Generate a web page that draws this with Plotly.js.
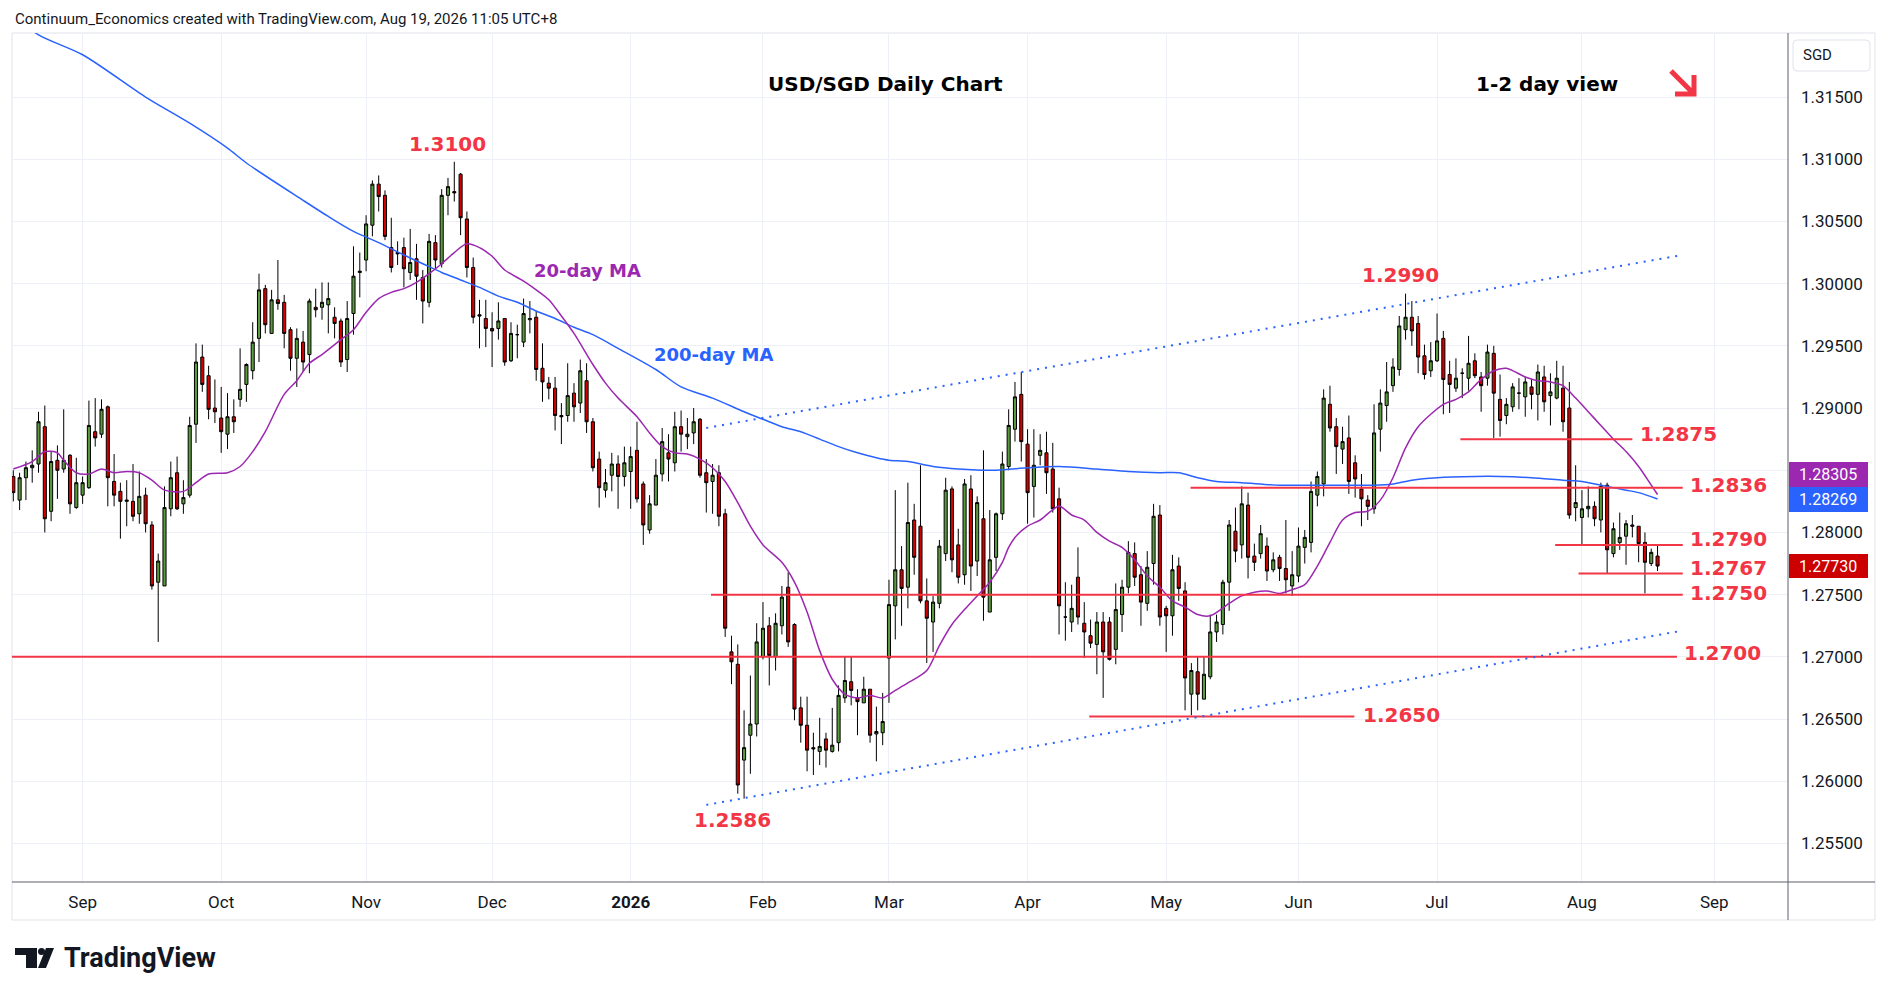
<!DOCTYPE html>
<html>
<head>
<meta charset="utf-8">
<script src="https://cdn.plot.ly/plotly-3.0.1.min.js"></script>
<style>
  html, body { margin: 0; padding: 0; background: #ffffff; }
  #chart { width: 1888px; height: 996px; }
</style>
</head>
<body>
<div id="chart"></div>
<script>
// ---- Data ----
const firstDay = '2025-08-15';
const lastDay = '2026-08-19';
const holidays = ['2025-12-25', '2026-01-01'];

const openPx = [
    // Aug 2025
    1.2845,1.2826,1.2844,1.2852,1.2855,1.2885,1.2817,1.2858,1.2851,1.2862,1.2820,
    // Sep
    1.2830,1.2836,1.2881,1.2879,1.2901,1.2841,1.2833,1.2825,1.2825,1.2815,1.2830,1.2806,1.2760,1.2757,1.2819,1.2848,1.2823,1.2830,1.2887,1.2941,1.2926,1.2900,
    // Oct
    1.2892,1.2879,1.2893,1.2907,1.2919,1.2930,1.2956,1.2996,1.2960,1.2987,1.2985,1.2963,1.2940,1.2953,1.2943,1.2981,1.2981,1.2983,1.2973,1.2970,1.2939,1.2976,1.3009,
    // Nov
    1.3019,1.3047,1.3080,1.3071,1.3029,1.3025,1.3029,1.3009,1.3020,1.3005,1.2985,1.3033,1.3016,1.3071,1.3074,1.3088,1.3052,1.3013,1.2975,1.2972,
    // Dec
    1.2964,1.2964,1.2972,1.2938,1.2959,1.2953,1.2971,1.2973,1.2932,1.2920,1.2916,1.2894,1.2894,1.2912,1.2904,1.2922,1.2889,1.2859,1.2834,1.2846,1.2855,1.2845,
    // Jan 2026
    1.2849,1.2866,1.2839,1.2802,1.2822,1.2847,1.2864,1.2856,1.2885,1.2877,1.2880,1.2891,1.2848,1.2841,1.2848,1.2815,1.2704,1.2694,1.2617,1.2637,1.2646,
    // Feb
    1.2700,1.2725,1.2700,1.2725,1.2756,1.2726,1.2659,1.2645,1.2627,1.2624,1.2634,1.2624,1.2631,1.2667,1.2680,1.2667,1.2663,1.2674,1.2638,1.2639,
    // Mar
    1.2699,1.2741,1.2770,1.2756,1.2810,1.2805,1.2745,1.2728,1.2743,1.2783,1.2835,1.2790,1.2766,1.2835,1.2777,1.2811,1.2736,1.2780,1.2815,1.2853,1.2883,1.2911,
    // Apr
    1.2871,1.2837,1.2862,1.2864,1.2851,1.2827,1.2732,1.2728,1.2764,1.2727,1.2717,1.2710,1.2728,1.2728,1.2706,1.2734,1.2756,1.2783,1.2766,1.2743,1.2775,1.2814,
    // May
    1.2739,1.2733,1.2773,1.2753,1.2670,1.2688,1.2666,1.2684,1.2720,1.2726,1.2760,1.2801,1.2790,1.2822,1.2781,1.2783,1.2789,1.2770,1.2780,1.2771,1.2757,
    // Jun
    1.2765,1.2788,1.2792,1.2830,1.2839,1.2903,1.2885,1.2867,1.2876,1.2856,1.2835,1.2826,1.2819,1.2883,1.2902,1.2918,1.2931,1.2963,1.2973,1.2968,1.2942,1.2930,
    // Jul
    1.2938,1.2956,1.2927,1.2916,1.2928,1.2924,1.2938,1.2925,1.2924,1.2944,1.2907,1.2894,1.2901,1.2912,1.2909,1.2917,1.2911,1.2925,1.2910,1.2908,1.2916,1.2900,1.2820,
    // Aug
    1.2812,1.2819,1.2821,1.2810,1.2838,1.2783,1.2792,1.2797,1.2806,1.2805,1.2792,1.2775,1.2781
];

const highPx = [
    1.2850,1.2848,1.2857,1.2866,1.2897,1.2902,1.2865,1.2870,1.2899,1.2863,1.2860,
    1.2845,1.2906,1.2908,1.2907,1.2902,1.2863,1.2840,1.2842,1.2855,1.2849,1.2836,1.2809,1.2783,1.2837,1.2857,1.2861,1.2842,1.2893,1.2952,1.2951,1.2934,1.2923,
    1.2917,1.2912,1.2907,1.2948,1.2936,1.2969,1.3008,1.2999,1.2995,1.3019,1.2991,1.2965,1.2964,1.2962,1.2988,1.2996,1.3001,1.3001,1.2981,1.2972,1.2986,1.3030,1.3025,
    1.3055,1.3083,1.3087,1.3075,1.3053,1.3034,1.3037,1.3044,1.3032,1.3011,1.3040,1.3039,1.3076,1.3085,1.3098,1.3089,1.3058,1.3021,1.2987,1.2987,
    1.2977,1.2985,1.2972,1.2969,1.2967,1.2988,1.2986,1.2978,1.2952,1.2925,1.2925,1.2904,1.2936,1.2920,1.2939,1.2936,1.2892,1.2865,1.2851,1.2864,1.2862,1.2869,
    1.2869,1.2889,1.2841,1.2830,1.2859,1.2884,1.2879,1.2897,1.2898,1.2892,1.2900,1.2892,1.2859,1.2855,1.2854,1.2819,1.2717,1.2710,1.2657,1.2685,1.2727,
    1.2744,1.2732,1.2735,1.2757,1.2768,1.2727,1.2668,1.2668,1.2639,1.2651,1.2639,1.2659,1.2677,1.2700,1.2700,1.2674,1.2684,1.2674,1.2660,1.2671,
    1.2762,1.2834,1.2789,1.2840,1.2823,1.2854,1.2763,1.2749,1.2794,1.2844,1.2837,1.2803,1.2843,1.2846,1.2829,1.2866,1.2818,1.2816,1.2865,1.2899,1.2921,1.2929,
    1.2883,1.2883,1.2879,1.2881,1.2872,1.2836,1.2760,1.2758,1.2788,1.2744,1.2730,1.2736,1.2736,1.2732,1.2759,1.2762,1.2793,1.2792,1.2773,1.2785,1.2823,1.2822,
    1.2741,1.2782,1.2780,1.2760,1.2695,1.2700,1.2700,1.2734,1.2734,1.2762,1.2810,1.2820,1.2837,1.2832,1.2791,1.2806,1.2796,1.2784,1.2782,1.2810,1.2785,
    1.2804,1.2802,1.2841,1.2849,1.2915,1.2918,1.2892,1.2885,1.2894,1.2862,1.2847,1.2830,1.2903,1.2915,1.2937,1.2940,1.2974,1.2992,1.2986,1.2974,1.2951,1.2953,
    1.2976,1.2962,1.2938,1.2940,1.2932,1.2958,1.2944,1.2929,1.2951,1.2950,1.2927,1.2908,1.2920,1.2924,1.2925,1.2923,1.2935,1.2934,1.2928,1.2938,1.2934,1.2921,1.2854,
    1.2834,1.2837,1.2825,1.2840,1.2840,1.2808,1.2816,1.2810,1.2814,1.2805,1.2800,1.2787,1.2790
];

const lowPx = [
    1.2825,1.2818,1.2826,1.2840,1.2848,1.2800,1.2809,1.2827,1.2848,1.2815,1.2819,
    1.2823,1.2835,1.2869,1.2876,1.2821,1.2821,1.2795,1.2805,1.2809,1.2807,1.2800,1.2754,1.2712,1.2757,1.2813,1.2818,1.2815,1.2828,1.2872,1.2913,1.2891,1.2888,
    1.2864,1.2867,1.2880,1.2901,1.2905,1.2923,1.2937,1.2960,1.2960,1.2979,1.2948,1.2930,1.2917,1.2929,1.2928,1.2973,1.2971,1.2960,1.2956,1.2933,1.2929,1.2959,1.2989,
    1.3010,1.3038,1.3058,1.3035,1.3009,1.3015,1.2997,1.3003,1.2987,1.2968,1.2981,1.3012,1.3013,1.3055,1.3066,1.3039,1.3005,1.2968,1.2948,1.2949,
    1.2933,1.2955,1.2934,1.2937,1.2940,1.2949,1.2960,1.2922,1.2905,1.2907,1.2882,1.2871,1.2889,1.2889,1.2896,1.2880,1.2849,1.2820,1.2828,1.2833,1.2819,1.2837,
    1.2819,1.2824,1.2790,1.2799,1.2822,1.2841,1.2841,1.2849,1.2865,1.2867,1.2871,1.2844,1.2816,1.2815,1.2805,1.2716,1.2678,1.2590,1.2586,1.2606,1.2636,
    1.2698,1.2677,1.2689,1.2718,1.2708,1.2649,1.2631,1.2608,1.2605,1.2613,1.2611,1.2623,1.2624,1.2663,1.2661,1.2637,1.2663,1.2631,1.2616,1.2629,
    1.2663,1.2714,1.2725,1.2739,1.2766,1.2743,1.2695,1.2704,1.2739,1.2777,1.2768,1.2759,1.2758,1.2753,1.2765,1.2729,1.2736,1.2769,1.2810,1.2850,1.2873,1.2857,
    1.2807,1.2812,1.2854,1.2831,1.2816,1.2718,1.2713,1.2720,1.2726,1.2699,1.2707,1.2686,1.2667,1.2697,1.2694,1.2720,1.2751,1.2757,1.2725,1.2737,1.2758,1.2725,
    1.2704,1.2717,1.2745,1.2657,1.2653,1.2657,1.2666,1.2682,1.2712,1.2718,1.2737,1.2776,1.2779,1.2763,1.2769,1.2779,1.2761,1.2768,1.2761,1.2751,1.2749,
    1.2760,1.2775,1.2784,1.2821,1.2829,1.2881,1.2847,1.2855,1.2831,1.2828,1.2805,1.2810,1.2815,1.2865,1.2889,1.2913,1.2926,1.2955,1.2950,1.2928,1.2923,1.2925,
    1.2937,1.2895,1.2896,1.2913,1.2908,1.2914,1.2924,1.2897,1.2918,1.2876,1.2877,1.2887,1.2897,1.2899,1.2893,1.2899,1.2890,1.2897,1.2886,1.2907,1.2881,1.2811,1.2809,
    1.2790,1.2812,1.2805,1.2800,1.2767,1.2780,1.2786,1.2774,1.2796,1.2776,1.2751,1.2773,1.2769
];

const closePx = [
    1.2832,1.2844,1.2852,1.2854,1.2889,1.2811,1.2857,1.2850,1.2858,1.2823,1.2840,
    1.2840,1.2886,1.2876,1.2899,1.2844,1.2830,1.2825,1.2826,1.2813,1.2829,1.2807,1.2757,1.2777,1.2820,1.2844,1.2819,1.2828,1.2886,1.2937,1.2919,1.2899,1.2897,
    1.2881,1.2893,1.2889,1.2915,1.2935,1.2953,1.2995,1.2967,1.2987,1.2984,1.2960,1.2940,1.2956,1.2937,1.2986,1.2979,1.2985,1.2988,1.2968,1.2937,1.2972,1.3006,1.3010,
    1.3048,1.3080,1.3070,1.3038,1.3013,1.3024,1.3012,1.3017,1.3006,1.2986,1.3034,1.3019,1.3071,1.3078,1.3073,1.3053,1.3013,1.2973,1.2974,1.2964,
    1.2962,1.2970,1.2937,1.2960,1.2959,1.2976,1.2972,1.2931,1.2921,1.2916,1.2894,1.2893,1.2910,1.2901,1.2930,1.2889,1.2852,1.2836,1.2840,1.2855,1.2845,1.2856,
    1.2861,1.2827,1.2806,1.2823,1.2846,1.2873,1.2859,1.2885,1.2879,1.2879,1.2889,1.2846,1.2840,1.2846,1.2813,1.2723,1.2696,1.2597,1.2627,1.2646,1.2712,
    1.2723,1.2701,1.2727,1.2748,1.2712,1.2658,1.2645,1.2625,1.2626,1.2628,1.2625,1.2629,1.2669,1.2681,1.2673,1.2664,1.2674,1.2637,1.2640,1.2648,
    1.2742,1.2770,1.2755,1.2808,1.2780,1.2745,1.2731,1.2744,1.2789,1.2834,1.2778,1.2764,1.2839,1.2773,1.2824,1.2748,1.2778,1.2815,1.2855,1.2886,1.2909,1.2873,
    1.2832,1.2854,1.2866,1.2848,1.2819,1.2741,1.2732,1.2739,1.2732,1.2720,1.2711,1.2728,1.2704,1.2698,1.2738,1.2756,1.2784,1.2764,1.2744,1.2772,1.2813,1.2732,
    1.2733,1.2770,1.2755,1.2683,1.2689,1.2670,1.2686,1.2720,1.2728,1.2760,1.2806,1.2785,1.2823,1.2780,1.2776,1.2799,1.2769,1.2778,1.2771,1.2762,1.2766,
    1.2789,1.2796,1.2833,1.2845,1.2908,1.2884,1.2869,1.2873,1.2841,1.2843,1.2827,1.2821,1.2880,1.2904,1.2913,1.2933,1.2966,1.2973,1.2962,1.2941,1.2927,1.2938,
    1.2954,1.2923,1.2919,1.2924,1.2928,1.2936,1.2926,1.2918,1.2945,1.2912,1.2890,1.2903,1.2917,1.2912,1.2921,1.2911,1.2929,1.2905,1.2913,1.2924,1.2889,1.2814,1.2824,
    1.2819,1.2821,1.2811,1.2837,1.2786,1.2803,1.2796,1.2807,1.2805,1.2791,1.2776,1.2784,1.2773
];

// 20-day moving average, sampled off the chart
const ma20Days = [
    '2025-08-15','2025-08-20','2025-08-22','2025-08-26','2025-08-27','2025-08-29','2025-09-02','2025-09-04',
    '2025-09-08','2025-09-10','2025-09-12','2025-09-16','2025-09-18','2025-09-23','2025-09-25','2025-09-29',
    '2025-10-02','2025-10-06','2025-10-08','2025-10-10','2025-10-15','2025-10-17','2025-10-21','2025-10-23',
    '2025-10-28','2025-10-30','2025-11-03','2025-11-05','2025-11-07','2025-11-11','2025-11-13','2025-11-17',
    '2025-11-19','2025-11-21','2025-11-25','2025-11-27','2025-12-01','2025-12-03','2025-12-08','2025-12-10',
    '2025-12-12','2025-12-16','2025-12-18','2025-12-23','2025-12-26','2025-12-30','2026-01-05','2026-01-07',
    '2026-01-09','2026-01-13','2026-01-15','2026-01-19','2026-01-21','2026-01-23','2026-01-27','2026-01-29',
    '2026-02-02','2026-02-05','2026-02-09','2026-02-11','2026-02-13','2026-02-17','2026-02-19','2026-02-23',
    '2026-02-25','2026-02-27','2026-03-03','2026-03-05','2026-03-10','2026-03-12','2026-03-16','2026-03-18',
    '2026-03-20','2026-03-24','2026-03-26','2026-03-27','2026-03-30','2026-04-01','2026-04-03','2026-04-08',
    '2026-04-10','2026-04-14','2026-04-16','2026-04-20','2026-04-22','2026-04-24','2026-04-28','2026-04-30',
    '2026-05-04','2026-05-06','2026-05-08','2026-05-12','2026-05-15','2026-05-19','2026-05-21','2026-05-25',
    '2026-05-27','2026-05-29','2026-06-02','2026-06-04','2026-06-08','2026-06-10','2026-06-12','2026-06-16',
    '2026-06-18','2026-06-22','2026-06-24','2026-06-26','2026-06-30','2026-07-02','2026-07-06','2026-07-08',
    '2026-07-10','2026-07-14','2026-07-16','2026-07-21','2026-07-23','2026-07-27','2026-07-29','2026-07-31',
    '2026-08-04','2026-08-06','2026-08-10','2026-08-12','2026-08-14','2026-08-18','2026-08-19'
];
const ma20Vals = [
    1.2851,1.2857,1.2865,1.2864,1.2858,1.2848,1.2847,1.2851,
    1.2848,1.2849,1.2848,1.2842,1.2834,1.2833,1.2840,1.2847,
    1.2848,1.2853,1.2865,1.2881,1.2911,1.2922,1.2936,1.2943,
    1.2955,1.2963,1.2977,1.2988,1.2993,1.2996,1.3001,1.3008,
    1.3016,1.3025,1.3032,1.3029,1.3022,1.3011,1.3002,1.2995,
    1.2987,1.2974,1.2960,1.2935,1.2920,1.2908,1.2893,1.2880,
    1.2869,1.2864,1.2863,1.2859,1.2852,1.2841,1.2824,1.2805,
    1.2790,1.2776,1.2760,1.2736,1.2705,1.2682,1.2670,1.2667,
    1.2669,1.2667,1.2673,1.2679,1.2689,1.2709,1.2726,1.2738,
    1.2749,1.2760,1.2776,1.2788,1.2796,1.2805,1.2810,1.2821,
    1.2814,1.2810,1.2800,1.2793,1.2788,1.2778,1.2765,1.2756,
    1.2745,1.2740,1.2734,1.2733,1.2743,1.2749,1.2752,1.2753,
    1.2751,1.2754,1.2758,1.2773,1.2792,1.2810,1.2816,1.2817,
    1.2826,1.2844,1.2868,1.2885,1.2895,1.2903,1.2907,1.2913,
    1.2923,1.2930,1.2932,1.2925,1.2922,1.2921,1.2918,1.2908,
    1.2897,1.2886,1.2875,1.2865,1.2853,1.2838,1.28305
];

// 200-day moving average, sampled off the chart
const ma200Days = [
    '2025-08-15','2025-08-21','2025-09-01','2025-09-15','2025-09-24','2025-10-02','2025-10-07','2025-10-20',
    '2025-10-24','2025-10-30','2025-11-05','2025-11-11','2025-11-14','2025-11-19','2025-11-24','2025-11-27',
    '2025-12-02','2025-12-05','2025-12-10','2025-12-15','2025-12-18','2025-12-23','2025-12-30','2026-01-08',
    '2026-01-14','2026-01-21','2026-01-28','2026-02-02','2026-02-05','2026-02-10','2026-02-13','2026-02-18',
    '2026-02-23','2026-02-26','2026-03-02','2026-03-05','2026-03-11','2026-03-17','2026-03-25','2026-04-01',
    '2026-04-08','2026-04-16','2026-04-23','2026-04-30','2026-05-05','2026-05-08','2026-05-13','2026-05-19',
    '2026-05-27','2026-06-02','2026-06-10','2026-06-17','2026-06-22','2026-06-25','2026-07-01','2026-07-09',
    '2026-07-15','2026-07-22','2026-07-29','2026-08-03','2026-08-07','2026-08-12','2026-08-14','2026-08-19'
];
const ma200Vals = [
    1.3216,1.3200,1.3184,1.3150,1.3129,1.3109,1.3097,1.3067,
    1.3054,1.3042,1.3033,1.3023,1.3016,1.3009,1.3003,1.2997,
    1.2990,1.2985,1.2978,1.2972,1.2965,1.2959,1.2948,1.2931,
    1.2917,1.2908,1.2897,1.2891,1.2885,1.2881,1.2875,1.2869,
    1.2864,1.2860,1.2858,1.2857,1.2853,1.2851,1.2850,1.2852,
    1.2853,1.2851,1.2849,1.2848,1.2848,1.2844,1.2841,1.2840,
    1.2838,1.2838,1.2838,1.2838,1.2839,1.2842,1.2844,1.2845,
    1.2845,1.2844,1.2842,1.2841,1.2837,1.2834,1.2832,1.28269
];

// Axis ticks (1.28500 sits under the price boxes, so it only gets a grid line)
const monthTicks = ['2025-09-01','2025-10-01','2025-11-03','2025-12-01','2026-01-02','2026-02-02','2026-03-02',
                    '2026-04-01','2026-05-01','2026-06-01','2026-07-01','2026-08-03','2026-09-01'];
const monthLabels = ['Sep','Oct','Nov','Dec','<b>2026</b>','Feb','Mar','Apr','May','Jun','Jul','Aug','Sep'];
const priceTicks = [1.255,1.26,1.265,1.27,1.275,1.28,1.29,1.295,1.30,1.305,1.31,1.315];
const hiddenPriceTicks = [1.285];

// Drawn levels and trend channel
const levelPrices = [1.2875, 1.2836, 1.2790, 1.2767, 1.2750, 1.2700, 1.2652];
const levelLabels = ['1.2875', '1.2836', '1.2790', '1.2767', '1.2750', '1.2700', '1.2650'];
const levelFrom = ['2026-07-07 05:00','2026-05-07 09:00','2026-07-28 06:00','2026-07-31 23:00','2026-01-21 06:00','2025-08-10 00:00','2026-04-15 07:00'];
const levelTo = ['2026-08-13 12:00','2026-08-25 12:00','2026-08-25 12:00','2026-08-25 12:00','2026-08-25 12:00','2026-08-24 14:00','2026-06-12 09:00'];
const trendDays = ['2026-01-20 12:00', '2026-08-25 09:00'];
const upperTrend = [1.2884, 1.3023];
const lowerTrend = [1.2581, 1.2721];
const peakLabels = ['1.3100', '1.2990', '1.2586'];


// ---- Helpers ----
function tradingDays(start, end, skip) {
    let out = [];
    let d = new Date(start + 'T12:00:00Z');
    let last = new Date(end + 'T12:00:00Z');
    while (d <= last) {
        let wd = d.getUTCDay();
        let iso = d.toISOString().slice(0, 10);
        if (wd !== 0 && wd !== 6 && skip.indexOf(iso) < 0) out.push(iso + ' 12:00');
        d.setUTCDate(d.getUTCDate() + 1);
    }
    return out;
}

// pixel -> paper coordinates (plot area 12..1788 x 33..882)
const PL = 12, PR = 1788, PT = 33, PB = 882;
function px(x) { return (x - PL) / (PR - PL); }
function py(y) { return (PB - y) / (PB - PT); }

const RED = '#f23645';
const PURPLE = '#9c27b0';
const BLUE = '#2962ff';
const INK = '#131722';
const GRID = '#edf1f7';
const DRAW_FONT = 'DejaVu Sans, Verdana, sans-serif';
const UI_FONT = 'Roboto, Arial, sans-serif';

let days = tradingDays(firstDay, lastDay, holidays);
if (days.length !== closePx.length) console.error('day count mismatch', days.length, closePx.length);

// ---- Traces ----
let candles = {
    type: 'candlestick',
    x: days,
    open: openPx,
    high: highPx,
    low: lowPx,
    close: closePx,
    increasing: { line: { color: '#000000', width: 1 }, fillcolor: '#5b9b3e' },
    decreasing: { line: { color: '#000000', width: 1 }, fillcolor: '#d30000' },
    whiskerwidth: 0,
    hoverinfo: 'skip',
    showlegend: false
};

let ma200 = {
    type: 'scatter',
    mode: 'lines',
    x: ma200Days.map(d => d + ' 12:00'),
    y: ma200Vals,
    line: { color: BLUE, width: 1.5, shape: 'spline', smoothing: 0.8 },
    hoverinfo: 'skip'
};

let ma20 = {
    type: 'scatter',
    mode: 'lines',
    x: ma20Days.map(d => d + ' 12:00'),
    y: ma20Vals,
    line: { color: PURPLE, width: 1.5, shape: 'spline', smoothing: 0.8 },
    hoverinfo: 'skip'
};

let data = [ma200, ma20, candles];

// ---- Shapes ----
let shapes = [];

// chart frame and axis lines
shapes.push({ type: 'rect', xref: 'paper', yref: 'paper', x0: px(12), x1: px(1875), y0: py(33), y1: py(920),
              line: { color: '#e0e3eb', width: 1 }, layer: 'below' });
shapes.push({ type: 'line', xref: 'paper', yref: 'paper', x0: px(12), x1: px(1875), y0: py(882), y1: py(882),
              line: { color: '#5d606b', width: 1 } });
shapes.push({ type: 'line', xref: 'paper', yref: 'paper', x0: px(1788), x1: px(1788), y0: py(33), y1: py(920),
              line: { color: '#5d606b', width: 1 } });

// support / resistance levels
for (let i in levelPrices) {
    shapes.push({
        type: 'line', xref: 'x', yref: 'y',
        x0: levelFrom[i], x1: levelTo[i], y0: levelPrices[i], y1: levelPrices[i],
        line: { color: RED, width: 2 }
    });
}

// dotted trend channel
shapes.push({ type: 'line', xref: 'x', yref: 'y', x0: trendDays[0], x1: trendDays[1], y0: upperTrend[0], y1: upperTrend[1],
              line: { color: BLUE, width: 2, dash: '2px,6px' } });
shapes.push({ type: 'line', xref: 'x', yref: 'y', x0: trendDays[0], x1: trendDays[1], y0: lowerTrend[0], y1: lowerTrend[1],
              line: { color: BLUE, width: 2, dash: '2px,6px' } });

// down arrow next to "1-2 day view"
shapes.push({ type: 'path', xref: 'paper', yref: 'paper',
              path: 'M' + px(1671) + ',' + py(71) + ' L' + px(1693) + ',' + py(93) +
                    ' M' + px(1694) + ',' + py(75) + ' L' + px(1694) + ',' + py(94) + ' L' + px(1675) + ',' + py(94),
              line: { color: RED, width: 5 } });

// price boxes on the axis
let boxes = [
    { y0: 462, y1: 487, color: PURPLE, text: ma20Vals[ma20Vals.length - 1].toFixed(5) },
    { y0: 487, y1: 512, color: BLUE, text: ma200Vals[ma200Vals.length - 1].toFixed(5) },
    { y0: 554, y1: 578, color: '#cc0000', text: closePx[closePx.length - 1].toFixed(5) }
];
for (let b of boxes) {
    shapes.push({ type: 'rect', xref: 'paper', yref: 'paper', x0: px(1789), x1: px(1868), y0: py(b.y1), y1: py(b.y0),
                  fillcolor: b.color, line: { width: 0 } });
}

// currency box
function roundRect(x0, y0, x1, y1, r) {
    return 'M' + px(x0 + r) + ',' + py(y0) + ' L' + px(x1 - r) + ',' + py(y0) +
           ' Q' + px(x1) + ',' + py(y0) + ' ' + px(x1) + ',' + py(y0 + r) +
           ' L' + px(x1) + ',' + py(y1 - r) + ' Q' + px(x1) + ',' + py(y1) + ' ' + px(x1 - r) + ',' + py(y1) +
           ' L' + px(x0 + r) + ',' + py(y1) + ' Q' + px(x0) + ',' + py(y1) + ' ' + px(x0) + ',' + py(y1 - r) +
           ' L' + px(x0) + ',' + py(y0 + r) + ' Q' + px(x0) + ',' + py(y0) + ' ' + px(x0 + r) + ',' + py(y0) + ' Z';
}
shapes.push({ type: 'path', xref: 'paper', yref: 'paper', path: roundRect(1793, 40, 1870, 71, 4),
              fillcolor: '#ffffff', line: { color: '#e0e3eb', width: 1 } });

// TradingView mark
function poly(pts) {
    return pts.map((p, k) => (k ? 'L' : 'M') + px(p[0]) + ',' + py(p[1])).join(' ') + ' Z';
}
shapes.push({ type: 'path', xref: 'paper', yref: 'paper',
              path: poly([[15, 948], [37, 948], [37, 968], [26, 968], [26, 955], [15, 955]]),
              fillcolor: INK, line: { width: 0 } });
shapes.push({ type: 'circle', xref: 'paper', yref: 'paper', x0: px(38), x1: px(45), y0: py(955), y1: py(948),
              fillcolor: INK, line: { width: 0 } });
shapes.push({ type: 'path', xref: 'paper', yref: 'paper',
              path: poly([[46, 948], [54, 948], [46, 968], [38, 968]]),
              fillcolor: INK, line: { width: 0 } });

// ---- Annotations ----
let annotations = [];
function label(text, x, y, opts) {
    let a = Object.assign({
        text: text, xref: 'paper', yref: 'paper', x: px(x), y: py(y),
        xanchor: 'center', yanchor: 'middle', showarrow: false,
        font: { family: DRAW_FONT, size: 20, color: RED, weight: 'bold' }
    }, opts || {});
    annotations.push(a);
}

label('Continuum_Economics created with TradingView.com, Aug 19, 2026 11:05 UTC+8', 13, 19,
      { xanchor: 'left', font: { family: UI_FONT, size: 15, color: INK } });
label('USD/SGD Daily Chart', 885, 84, { font: { family: DRAW_FONT, size: 20, color: '#000000', weight: 'bold' } });
label('1-2 day view', 1547, 84, { font: { family: DRAW_FONT, size: 20, color: '#000000', weight: 'bold' } });

label(peakLabels[0], 447, 144);
label(peakLabels[1], 1400, 275);
label(peakLabels[2], 732, 820);

let levelLabelPos = [[1638, 434], [1688, 485], [1688, 539], [1688, 568], [1688, 593], [1682, 653], [1361, 715]];
for (let i in levelLabels) {
    label(levelLabels[i], levelLabelPos[i][0], levelLabelPos[i][1], { xanchor: 'left' });
}

label('20-day MA', 587, 270, { font: { family: DRAW_FONT, size: 18, color: PURPLE, weight: 'bold' } });
label('200-day MA', 713, 354, { font: { family: DRAW_FONT, size: 18, color: BLUE, weight: 'bold' } });

for (let b of boxes) {
    label(b.text, 1828, (b.y0 + b.y1) / 2, { font: { family: UI_FONT, size: 16, color: '#ffffff' } });
}
label('SGD', 1817, 55, { font: { family: UI_FONT, size: 15, color: INK } });
label('TradingView', 62, 958, { xanchor: 'left', font: { family: UI_FONT, size: 27, color: INK, weight: 'bold' } });

// ---- Layout ----
let layout = {
    width: 1888,
    height: 996,
    margin: { l: 12, r: 100, t: 33, b: 114 },
    paper_bgcolor: '#ffffff',
    plot_bgcolor: '#ffffff',
    showlegend: false,
    hovermode: false,
    xaxis: {
        type: 'date',
        range: ['2025-08-15 07:00', '2026-09-17 05:00'],
        rangebreaks: [{ bounds: ['sat', 'mon'] }, { values: holidays }],
        rangeslider: { visible: false },
        tickvals: monthTicks.map(d => d + ' 12:00'),
        ticktext: monthLabels,
        showgrid: true,
        gridcolor: GRID,
        ticks: '',
        ticklabelstandoff: 8,
        tickfont: { family: UI_FONT, size: 17, color: INK },
        showline: false,
        zeroline: false,
        fixedrange: true
    },
    yaxis: {
        side: 'right',
        range: [1.2519, 1.32015],
        tickvals: priceTicks,
        tickformat: '.5f',
        showgrid: true,
        gridcolor: GRID,
        minor: { tickvals: hiddenPriceTicks, showgrid: true, gridcolor: GRID, ticks: '' },
        ticks: '',
        ticklabelstandoff: 12,
        tickfont: { family: UI_FONT, size: 17, color: INK },
        showline: false,
        zeroline: false,
        fixedrange: true
    },
    shapes: shapes,
    annotations: annotations
};

let config = {
    displayModeBar: false,
    staticPlot: true
};

Plotly.newPlot(document.getElementById('chart'), data, layout, config);
</script>
</body>
</html>
